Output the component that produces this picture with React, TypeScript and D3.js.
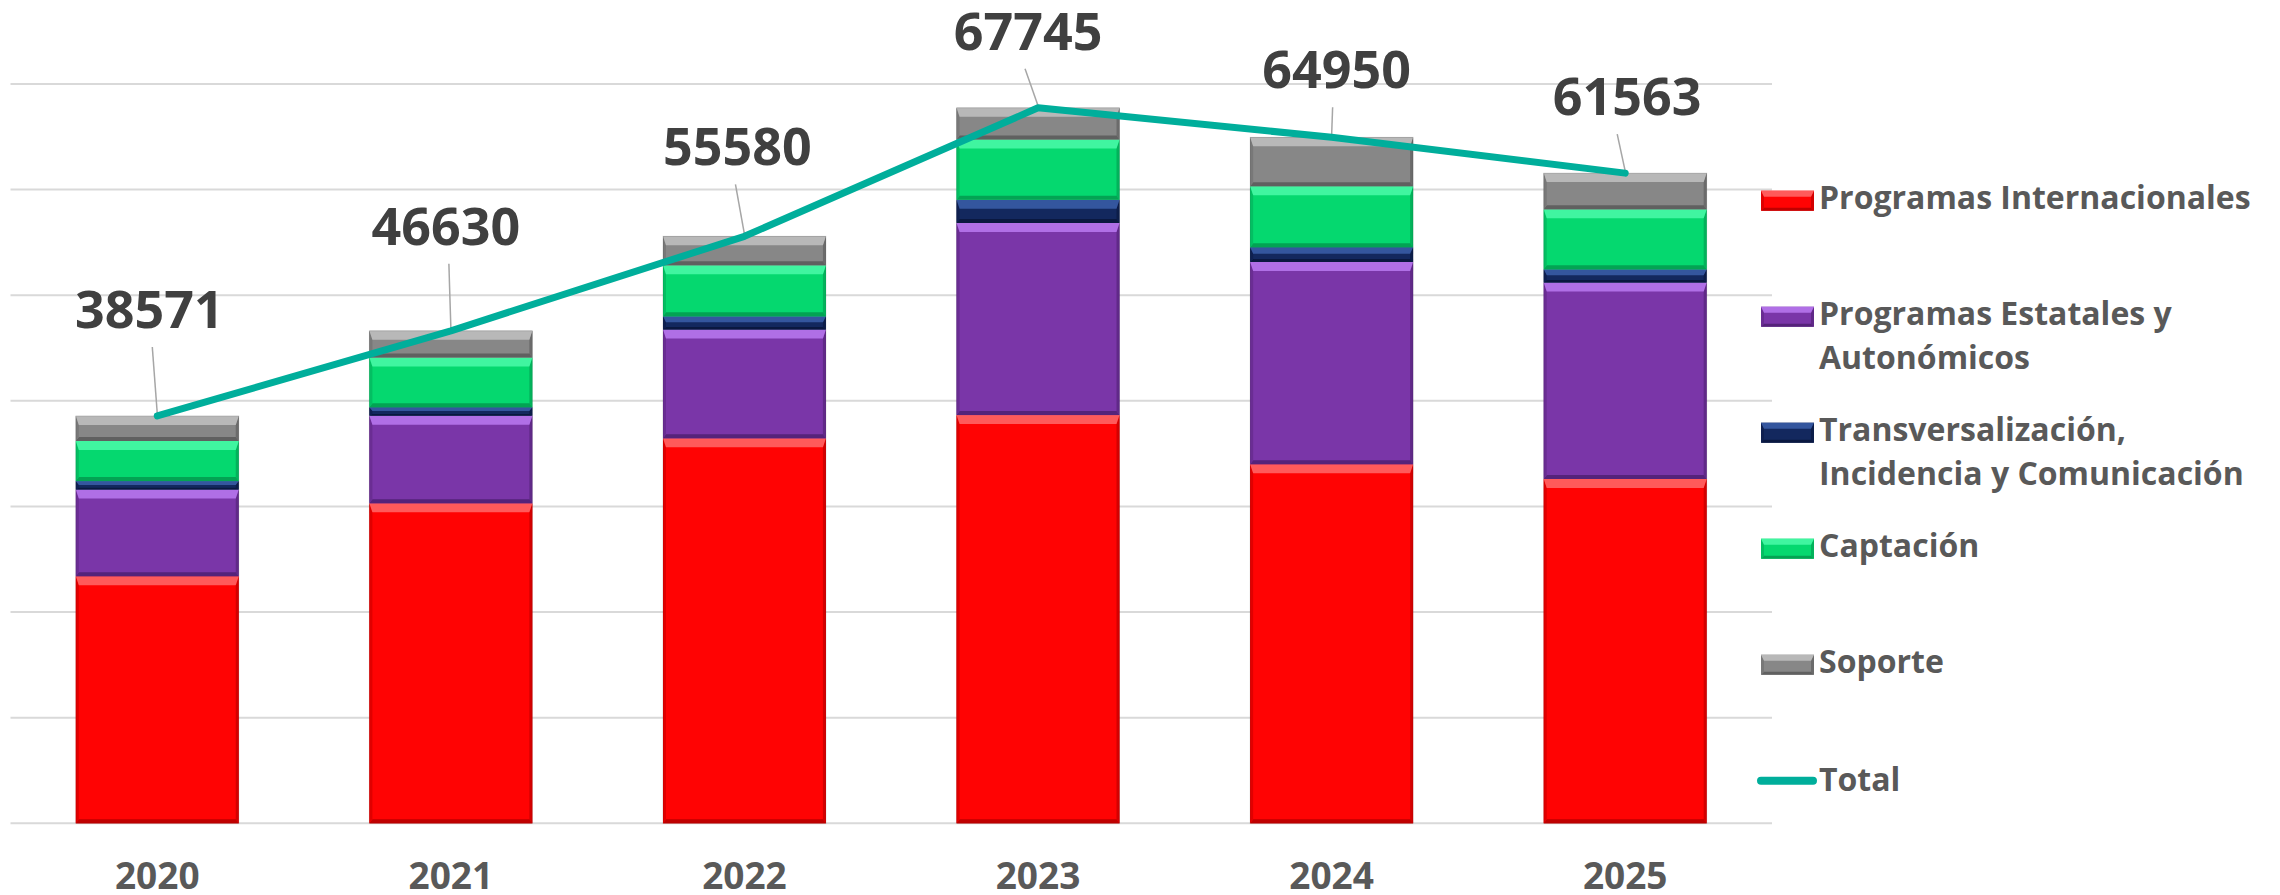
import React from "react";
import * as d3 from "d3";

const years = ["2020", "2021", "2022", "2023", "2024", "2025"];
const internacionales = [23400, 30300, 36450, 38650, 34000, 32600];
const estatales = [8200, 8300, 10300, 18200, 19150, 18600];
const transversal = [800, 800, 1250, 2200, 1400, 1250];
const captacion = [3800, 4700, 4830, 5700, 5770, 5680];
const soporte = [2371, 2530, 2750, 2995, 4630, 3433];
const totals = [38571, 46630, 55580, 67745, 64950, 61563];
const yTicks = [0, 10000, 20000, 30000, 40000, 50000, 60000, 70000];

const seriesNames = [
  "Programas Internacionales",
  "Programas Estatales y Autonómicos",
  "Transversalización, Incidencia y Comunicación",
  "Captación",
  "Soporte",
];
const legendLines = [
  ["Programas Internacionales"],
  ["Programas Estatales y", "Autonómicos"],
  ["Transversalización,", "Incidencia y Comunicación"],
  ["Captación"],
  ["Soporte"],
];

const colors = [
  { base: "#FF0303", light: "#FF5A5A", dark: "#C00000", side: "#E00000" },
  { base: "#7A36A8", light: "#B06FE6", dark: "#55237A", side: "#6A2D93" },
  { base: "#13285E", light: "#34569E", dark: "#0A1840", side: "#0F2050" },
  { base: "#05D86F", light: "#40F5A0", dark: "#03A353", side: "#04BE62" },
  { base: "#878787", light: "#B8B8B8", dark: "#606060", side: "#787878" },
];
const lineColor = "#00AE9B";

// label layout offsets (relative to line point)
const labelDx = [-8, -5, -7, -10, 5, 2];
const labelDy = [-88, -86, -71, -58, -49, -58];
const leaderDx = [-5, -2, -9, -13, 1, -8];

const W = 2280;
const H = 895;
const FONT = "'Open Sans', 'Noto Sans', sans-serif";

function Bevel({ x, y, w, h, c, bt = 9, bb = 4, bs = 3 }: any) {
  const t = Math.min(bt, h * 0.45);
  const b = Math.min(bb, h * 0.2);
  const s = Math.min(bs, w * 0.1);
  return (
    <g>
      <rect x={x} y={y} width={w} height={h} fill={c.base} />
      <polygon
        points={`${x},${y + h} ${x + w},${y + h} ${x + w - s},${y + h - b} ${x + s},${y + h - b}`}
        fill={c.dark}
      />
      <polygon
        points={`${x},${y} ${x + s},${y + t} ${x + s},${y + h - b} ${x},${y + h}`}
        fill={c.side}
      />
      <polygon
        points={`${x + w},${y} ${x + w - s},${y + t} ${x + w - s},${y + h - b} ${x + w},${y + h}`}
        fill={c.dark}
        opacity={0.7}
      />
      <polygon
        points={`${x},${y} ${x + w},${y} ${x + w - s},${y + t} ${x + s},${y + t}`}
        fill={c.light}
      />
    </g>
  );
}

export default function App() {
  const x = d3
    .scaleBand<string>()
    .domain(years)
    .range([10.5, 1772])
    .paddingInner(0.445)
    .paddingOuter(0.2225);
  const y = d3.scaleLinear().domain([0, 70000]).range([823.3, 84]);

  const table = years.map((yr, i) => ({
    year: yr,
    s0: internacionales[i],
    s1: estatales[i],
    s2: transversal[i],
    s3: captacion[i],
    s4: soporte[i],
  }));
  const keys = ["s0", "s1", "s2", "s3", "s4"];
  const stacked = d3.stack<any>().keys(keys)(table);

  const cx = (yr: string) => (x(yr) as number) + x.bandwidth() / 2;
  const line = d3
    .line<number>()
    .x((_, i) => cx(years[i]))
    .y((d) => y(d));

  const legX = 1761;
  const legW = 53;
  const legTextX = 1819;
  const legY0 = 200.7;
  const legStep = 116;

  return (
    <>
      <style>{`body{margin:0;}`}</style>
      <svg width={W} height={H} style={{ display: "block", background: "#fff" }} fontFamily={FONT}>
        {yTicks.map((t) => (
          <line key={t} x1={10.5} x2={1772} y1={y(t)} y2={y(t)} stroke="#D9D9D9" strokeWidth={2} />
        ))}
        {stacked.map((layer, si) => (
          <g key={si}>
            {layer.map((d, i) => {
              const top = y(d[1]);
              const bot = y(d[0]);
              return (
                <Bevel
                  key={i}
                  x={x(years[i])}
                  y={top}
                  w={x.bandwidth()}
                  h={bot - top}
                  c={colors[si]}
                />
              );
            })}
          </g>
        ))}
        {years.map((yr, i) => (
          <rect
            key={"o" + yr}
            x={x(yr)}
            y={y(totals[i])}
            width={x.bandwidth()}
            height={y(0) - y(totals[i])}
            fill="none"
            stroke="rgba(0,0,0,0.12)"
            strokeWidth={1}
          />
        ))}
        {totals.map((t, i) => {
          const px = cx(years[i]);
          const py = y(t);
          const ly = py + labelDy[i];
          return (
            <line
              key={"ll" + i}
              x1={px + leaderDx[i]}
              y1={ly + 19}
              x2={px}
              y2={py - 2}
              stroke="#A6A6A6"
              strokeWidth={1.5}
            />
          );
        })}
        <path
          d={line(totals) || ""}
          fill="none"
          stroke={lineColor}
          strokeWidth={7}
          strokeLinejoin="round"
          strokeLinecap="round"
        />
        {totals.map((t, i) => {
          const px = cx(years[i]);
          const py = y(t);
          return (
            <text
              key={"lb" + i}
              x={px + labelDx[i]}
              y={py + labelDy[i]}
              textAnchor="middle"
              fontSize={52}
              fontWeight={700}
              fill="#404040"
            >
              {t}
            </text>
          );
        })}
        {years.map((yr) => (
          <text
            key={"yr" + yr}
            x={cx(yr)}
            y={889}
            textAnchor="middle"
            fontSize={37}
            fontWeight={700}
            fill="#595959"
          >
            {yr}
          </text>
        ))}
        {seriesNames.map((name, i) => {
          const cy = legY0 + legStep * i;
          return (
            <g key={"lg" + i}>
              <Bevel x={legX} y={cy - 10} w={legW} h={20} c={colors[i]} bt={6} bb={3} bs={3} />
              {legendLines[i].map((ln, j) => (
                <text
                  key={j}
                  x={legTextX}
                  y={cy + 8.5 + j * 44}
                  fontSize={32}
                  fontWeight={700}
                  fill="#595959"
                >
                  {ln}
                </text>
              ))}
            </g>
          );
        })}
        <g>
          <line
            x1={1761}
            x2={1813}
            y1={legY0 + legStep * 5}
            y2={legY0 + legStep * 5}
            stroke={lineColor}
            strokeWidth={8}
            strokeLinecap="round"
          />
          <text
            x={legTextX}
            y={legY0 + legStep * 5 + 10}
            fontSize={32}
            fontWeight={700}
            fill="#595959"
          >
            Total
          </text>
        </g>
      </svg>
    </>
  );
}
